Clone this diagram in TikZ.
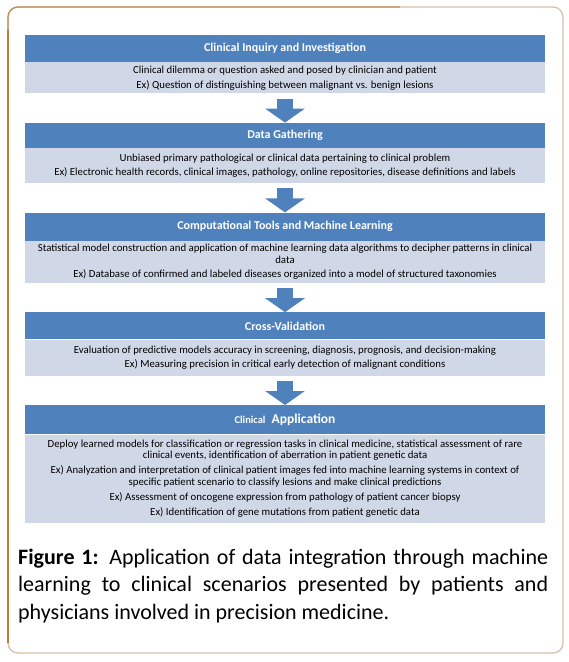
\documentclass[tikz,border=0pt]{standalone}
\usepackage{fontspec}
\setmainfont{Carlito}
\usetikzlibrary{positioning, arrows.meta}
\definecolor{barblue}{HTML}{4F81BD}
\definecolor{barlight}{HTML}{D0D8E8}
\definecolor{frameleft}{HTML}{BD7B3C}
\definecolor{frameright}{HTML}{D9BFA8}
\hyphenpenalty=10000
\exhyphenpenalty=10000

\begin{document}
\begin{tikzpicture}[x=1pt,y=1pt,
    titlebar/.style={fill=barblue, text=white, font=\fontsize{12}{14}\selectfont\bfseries, minimum width=520pt, inner sep=0pt},
    bodybox/.style={fill=barlight, font=\fontsize{10.8}{11.6}\selectfont, minimum width=520pt, align=center, inner sep=0pt},
    flow/.style={barblue, line width=16pt, -{Triangle[width=39pt,length=14pt]}, shorten <=5pt},
    captext/.style={text width=530pt, align=justify, inner sep=0pt, font=\fontsize{22}{27.3}\selectfont}]
    \useasboundingbox (0,0) rectangle (569,-662);
    % frame
    \draw[frameright, line width=1.3pt, rounded corners=10pt] (8,-7) rectangle (563,-653);
    \draw[frameleft!75!frameright, line width=1.3pt, rounded corners=10pt] (8,-100) -- (8,-7) -- (400,-7);
    \draw[frameleft, line width=1.3pt, rounded corners=10pt] (8,-643) -- (8,-30);
    % steps
    \node[titlebar, minimum height=27pt] (inquiry) at (285,-48.5) {Clinical Inquiry and Investigation};
    \node[bodybox, minimum height=31pt, below=0pt of inquiry] (inquirytxt) {Clinical dilemma or question asked and posed by clinician and patient\\[3pt]
        Ex) Question of distinguishing between malignant vs. benign lesions};
    \node[titlebar, minimum height=25pt, below=29pt of inquirytxt] (gather) {Data Gathering};
    \node[bodybox, minimum height=35pt, below=0pt of gather] (gathertxt) {Unbiased primary pathological or clinical data pertaining to clinical problem\\[3pt]
        Ex) Electronic health records, clinical images, pathology, online repositories, disease definitions and labels};
    \node[titlebar, minimum height=28pt, below=29pt of gathertxt] (compute) {Computational Tools and Machine Learning};
    \node[bodybox, minimum height=42pt, below=0pt of compute] (computetxt) {Statistical model construction and application of machine learning data algorithms to decipher patterns in clinical\\
        data\\[3pt]
        Ex) Database of confirmed and labeled diseases organized into a model of structured taxonomies};
    \node[titlebar, minimum height=27pt, below=29pt of computetxt] (validate) {Cross-Validation};
    \node[bodybox, minimum height=36pt, below=0pt of validate] (validatetxt) {Evaluation of predictive models accuracy in screening, diagnosis, prognosis, and decision-making\\[3pt]
        Ex) Measuring precision in critical early detection of malignant conditions};
    \node[titlebar, minimum height=29pt, below=29pt of validatetxt, font=\fontsize{13.5}{15}\selectfont\bfseries] (apply) {{\fontsize{10.5}{12}\selectfont Clinical}\ \ Application};
    \node[bodybox, minimum height=88pt, below=0pt of apply] (applytxt) {Deploy learned models for classification or regression tasks in clinical medicine, statistical assessment of rare\\
        clinical events, identification of aberration in patient genetic data\\[3.5pt]
        Ex) Analyzation and interpretation of clinical patient images fed into machine learning systems in context of\\
        specific patient scenario to classify lesions and make clinical predictions\\[3.5pt]
        Ex) Assessment of oncogene expression from pathology of patient cancer biopsy\\[3.5pt]
        Ex) Identification of gene mutations from patient genetic data};
    % arrows
    \draw[flow] (inquirytxt) -- (gather);
    \draw[flow] (gathertxt) -- (compute);
    \draw[flow] (computetxt) -- (validate);
    \draw[flow] (validatetxt) -- (apply);
    % caption
    \node[captext, anchor=north west] (caption) at (18,-549) {\textbf{Figure 1:} Application of data integration through machine\linebreak
        learning to clinical scenarios presented by patients and\linebreak
        physicians involved in precision medicine.};
\end{tikzpicture}
\end{document}
